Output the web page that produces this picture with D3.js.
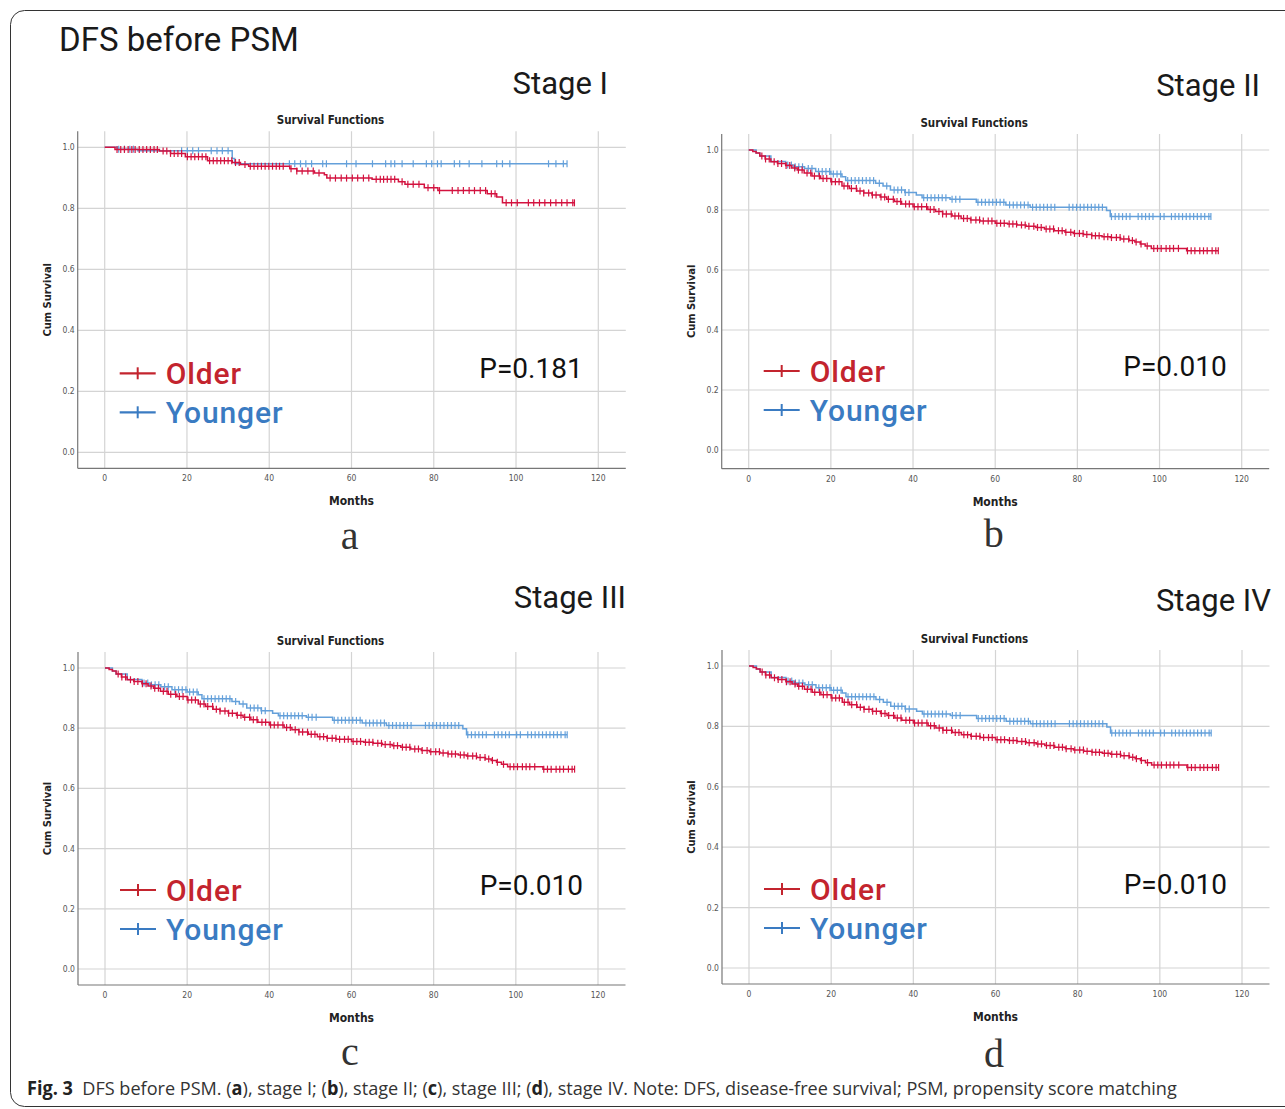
<!DOCTYPE html>
<html>
<head>
<meta charset="utf-8">
<script src="https://cdn.jsdelivr.net/npm/d3@7"></script>
<style>
  body { margin: 0; background: #fff; }
  svg { display: block; }
  .tick-label { font-family: "DejaVu Sans Condensed", "DejaVu Sans", sans-serif; font-size: 8.5px; fill: #555; }
  .bold-label { font-family: "DejaVu Sans Condensed", "DejaVu Sans", sans-serif; font-weight: bold; fill: #222; }
  .big { font-family: Roboto, "Open Sans", sans-serif; }
</style>
</head>
<body>
<svg id="fig" width="1285" height="1109"></svg>
<script>
// Kaplan-Meier steps are [month, cumulative survival]; censor lists are months.

// Stage I
const olderStageI = [[0,1],[2.5,0.993],[13.3,0.988],[16,0.98],[19.6,0.969],[25,0.956],[31,0.95],
  [33,0.944],[35,0.938],[45,0.93],[46.7,0.922],[51,0.916],[53.4,0.91],[54,0.899],[65,0.895],
  [71.4,0.887],[73,0.879],[77.7,0.867],[81,0.858],[93,0.848],[95.3,0.837],[96.7,0.818]];
const olderStageICensor = [3.0,3.9,4.8,5.7,6.6,7.4,8.4,9.3,10.2,11.1,12.0,12.8,14.2,15.1,16.0,16.9,
  17.8,18.7,20.1,21.0,21.9,22.8,23.7,24.6,25.5,26.4,27.3,28.2,29.1,30.0,30.9,31.8,32.7,34.1,35.4,
  36.3,37.2,38.1,39.0,39.9,40.8,41.7,42.5,43.4,45.3,46.7,48.0,49.4,50.7,52.1,54.8,56.1,57.5,58.8,
  60.2,61.5,62.9,64.2,66.0,67.0,67.8,68.7,69.6,70.5,72.3,73.7,75.0,76.4,78.6,80.0,81.4,84.5,85.9,
  87.2,88.6,89.9,91.3,92.6,94.0,94.9,97.6,98.9,100.3,103.0,104.3,105.7,107.0,108.4,109.7,111.1,
  112.4,113.8,114.2];
const youngerStageI = [[0,1],[3,0.994],[8,0.989],[31,0.963],[31.6,0.946]];
const youngerStageICensor = [3.4,4.8,6.1,7.0,18.7,20.1,21.4,22.8,25.9,27.3,28.6,30.0,44.9,46.2,47.6,
  48.9,50.3,53.0,53.9,58.8,61.1,65.1,68.3,69.6,70.5,72.3,75.0,78.2,79.5,80.9,81.8,85.0,86.3,88.6,
  91.7,95.3,96.7,98.5,107.9,109.7,111.5,112.4];

// Stages II, III and IV show the same curves in the figure
const olderLate = [[0,1],[1,0.995],[1.8,0.99],[2.7,0.98],[4,0.97],[5.4,0.961],[7,0.955],[9,0.948],
  [10.5,0.94],[11.8,0.933],[13.5,0.923],[15.4,0.913],[17.5,0.905],[20,0.894],[22.7,0.88],
  [24.5,0.872],[26.3,0.863],[28,0.857],[30,0.85],[32,0.843],[33.6,0.836],[35.5,0.828],[37.2,0.82],
  [40,0.811],[43.6,0.802],[45.5,0.795],[47.2,0.787],[49.5,0.78],[51.7,0.772],[54,0.767],
  [56.3,0.763],[60,0.756],[63,0.753],[65.3,0.75],[67.5,0.746],[69.9,0.742],[72,0.737],[74.4,0.731],
  [77,0.726],[79,0.722],[81.5,0.718],[83.5,0.714],[86,0.711],[88,0.708],[90.5,0.703],[92.6,0.698],
  [94,0.693],[95.3,0.687],[96.5,0.68],[98,0.672],[106.6,0.664]];
const olderLateCensor = [3.2,4.1,5.0,6.2,7.1,8.0,9.1,10.0,11.2,12.1,13.0,14.2,15.1,16.0,17.2,18.1,
  19.0,20.2,21.1,22.0,23.2,24.1,25.0,26.2,27.1,28.0,29.2,30.1,31.0,32.2,33.1,34.0,35.2,36.1,37.0,
  38.2,39.1,40.3,41.2,42.1,43.3,44.2,45.1,46.3,47.2,48.1,49.3,50.2,51.1,52.3,53.2,54.1,55.3,56.2,
  57.1,58.3,59.2,60.4,61.3,62.2,63.4,64.3,65.2,66.4,67.3,68.2,69.4,70.3,71.2,72.4,73.3,74.2,75.4,
  76.3,77.2,78.4,79.3,80.5,81.4,82.3,83.5,84.4,85.3,86.5,87.4,88.3,89.5,90.4,91.3,92.5,93.4,94.3,
  95.5,97.0,98.6,99.5,100.4,101.6,102.5,103.4,104.6,106.8,107.7,108.6,109.8,110.7,111.6,112.8,
  113.7,114.3];
const youngerLate = [[0,1],[1.8,0.99],[2.7,0.98],[5.4,0.962],[9,0.95],[10.9,0.944],[13.6,0.938],
  [16.3,0.928],[20,0.92],[22.7,0.911],[23.6,0.898],[30.9,0.889],[32.7,0.88],[34.5,0.867],
  [38,0.858],[40.8,0.85],[42.2,0.841],[49,0.836],[55.4,0.826],[62.6,0.817],[68.5,0.809],
  [87.1,0.798],[88,0.778]];
const youngerLateCensor = [9.5,10.4,11.3,12.2,13.1,14.5,15.4,17.0,17.9,18.8,19.7,20.6,21.5,22.4,
  24.1,25.0,25.9,26.8,27.7,28.6,29.5,30.4,31.8,33.6,35.4,36.3,37.2,38.1,39.0,42.6,43.5,44.4,45.3,
  46.2,47.1,48.0,49.5,50.4,51.4,55.8,56.7,57.6,58.5,59.4,60.3,61.2,62.1,63.5,64.4,65.3,66.2,67.1,
  68.0,69.1,70.0,70.9,71.8,72.7,73.6,74.5,78.0,78.9,79.8,80.7,81.6,82.5,83.4,84.3,85.2,86.1,88.3,
  89.2,90.1,91.0,91.9,92.8,94.8,95.7,96.6,97.5,98.4,100.2,101.1,102.9,103.8,104.7,105.6,106.5,
  107.4,108.3,109.2,110.1,111.0,112.0,112.5];

const stageNames = ['Stage I', 'Stage II', 'Stage III', 'Stage IV'];
const pValues = ['P=0.181', 'P=0.010', 'P=0.010', 'P=0.010'];
const panelLetters = ['a', 'b', 'c', 'd'];
const xTicks = [0, 20, 40, 60, 80, 100, 120];
const yTicks = [0, 0.2, 0.4, 0.6, 0.8, 1.0];
const groupNames = ['Older', 'Younger'];

const OLDER_LINE = '#d3123f';
const YOUNGER_LINE = '#64a0da';
const OLDER_TEXT = '#c3242e';
const YOUNGER_TEXT = '#3a7bc2';

// placement of each panel on the page (pixel layout, not data)
const layout = [
  { x0: 104.7, x120: 598.3, y1: 147.3, y0: 452.3, bottom: 468.3, stageX: 608, stageY: 83, letterY: 549 },
  { x0: 748.7, x120: 1241.7, y1: 150, y0: 450, bottom: 468.7, stageX: 1260, stageY: 85, letterY: 547 },
  { x0: 105, x120: 598, y1: 668, y0: 969, bottom: 985, stageX: 626, stageY: 597, letterY: 1065 },
  { x0: 749, x120: 1242, y1: 666, y0: 968, bottom: 984, stageX: 1271, stageY: 600, letterY: 1067 },
];

const panelData = [
  [olderStageI, olderStageICensor, youngerStageI, youngerStageICensor],
  [olderLate, olderLateCensor, youngerLate, youngerLateCensor],
  [olderLate, olderLateCensor, youngerLate, youngerLateCensor],
  [olderLate, olderLateCensor, youngerLate, youngerLateCensor],
];

const svg = d3.select('#fig');

// frame round the whole figure, its right edge runs off the page
svg.append('rect')
  .attr('x', 10.5).attr('y', 10.5)
  .attr('width', 1300).attr('height', 1096)
  .attr('rx', 14)
  .attr('fill', 'none')
  .attr('stroke', '#333')
  .attr('stroke-width', 1);

svg.append('text')
  .classed('big', true)
  .attr('x', 59).attr('y', 51)
  .attr('font-size', 33)
  .attr('fill', '#1a1a1a')
  .text('DFS before PSM');

// survival value of a step function at time t
function survAt(steps, t) {
  let s = steps[0][1];
  steps.forEach(p => { if (p[0] <= t) s = p[1]; });
  return s;
}

function drawPanel(i) {
  let L = layout[i];
  let [older, olderCens, younger, youngerCens] = panelData[i];
  let x = d3.scaleLinear().domain([0, 120]).range([L.x0, L.x120]);
  let y = d3.scaleLinear().domain([0, 1]).range([L.y0, L.y1]);
  let left = L.x0 - 27, right = L.x120 + 27.5;
  let top = L.y1 - 16, bottom = L.bottom;
  let g = svg.append('g');

  // grid
  g.selectAll('.vgrid').data(xTicks).enter().append('line')
    .attr('x1', d => x(d)).attr('x2', d => x(d))
    .attr('y1', top).attr('y2', bottom)
    .attr('stroke', '#d4d4d4').attr('stroke-width', 1.2);
  g.selectAll('.hgrid').data(yTicks).enter().append('line')
    .attr('x1', left).attr('x2', right)
    .attr('y1', d => y(d)).attr('y2', d => y(d))
    .attr('stroke', '#d4d4d4').attr('stroke-width', 1.2);

  // axes lines
  g.append('line').attr('x1', left).attr('x2', left).attr('y1', top).attr('y2', bottom)
    .attr('stroke', '#777').attr('stroke-width', 1.2);
  g.append('line').attr('x1', left).attr('x2', right).attr('y1', bottom).attr('y2', bottom)
    .attr('stroke', '#777').attr('stroke-width', 1.2);

  g.selectAll('.xt').data(xTicks).enter().append('text')
    .classed('tick-label', true)
    .attr('x', d => x(d)).attr('y', bottom + 13)
    .attr('text-anchor', 'middle')
    .text(d => d);
  g.selectAll('.yt').data(yTicks).enter().append('text')
    .classed('tick-label', true)
    .attr('x', left - 3).attr('y', d => y(d) + 3)
    .attr('text-anchor', 'end')
    .text(d => d3.format('.1f')(d));

  g.append('text').classed('bold-label', true)
    .attr('x', (L.x0 + L.x120) / 2 - 21).attr('y', top - 7)
    .attr('text-anchor', 'middle').attr('font-size', 11.5)
    .text('Survival Functions');
  g.append('text').classed('bold-label', true)
    .attr('x', (L.x0 + L.x120) / 2).attr('y', bottom + 37)
    .attr('text-anchor', 'middle').attr('font-size', 12)
    .text('Months');
  g.append('text').classed('bold-label', true)
    .attr('transform', `translate(${left - 27},${(top + bottom) / 2}) rotate(-90)`)
    .attr('text-anchor', 'middle').attr('font-size', 11)
    .text('Cum Survival');

  // curves, younger beneath older
  let line = d3.line().x(d => x(d[0])).y(d => y(d[1])).curve(d3.curveStepAfter);
  let curves = [[younger, youngerCens, YOUNGER_LINE], [older, olderCens, OLDER_LINE]];
  curves.forEach(([steps, cens, col]) => {
    let end = d3.max(cens);
    let pts = steps.concat([[end, steps[steps.length - 1][1]]]);
    g.append('path')
      .attr('d', line(pts))
      .attr('fill', 'none')
      .attr('stroke', col)
      .attr('stroke-width', 1.5);
    g.selectAll(null).data(cens).enter().append('line')
      .attr('x1', d => x(d)).attr('x2', d => x(d))
      .attr('y1', d => y(survAt(steps, d)) - 3.5)
      .attr('y2', d => y(survAt(steps, d)) + 3.5)
      .attr('stroke', col)
      .attr('stroke-width', 1.2);
  });

  // legend
  let legendRows = [[groupNames[0], OLDER_TEXT, L.y0 - 79], [groupNames[1], YOUNGER_TEXT, L.y0 - 40]];
  legendRows.forEach(([name, col, ly]) => {
    g.append('line').attr('x1', L.x0 + 15).attr('x2', L.x0 + 51)
      .attr('y1', ly).attr('y2', ly).attr('stroke', col).attr('stroke-width', 2.2);
    g.append('line').attr('x1', L.x0 + 33).attr('x2', L.x0 + 33)
      .attr('y1', ly - 6).attr('y2', ly + 6).attr('stroke', col).attr('stroke-width', 2);
    g.append('text').classed('big', true)
      .attr('x', L.x0 + 61).attr('y', ly + 11)
      .attr('font-size', 30).attr('font-weight', 500)
      .attr('letter-spacing', 0.9)
      .attr('fill', col)
      .text(name);
  });

  g.append('text').classed('big', true)
    .attr('x', L.x0 + 478).attr('y', L.y0 - 74)
    .attr('text-anchor', 'end')
    .attr('font-size', 28).attr('fill', '#111')
    .text(pValues[i]);

  svg.append('text').classed('big', true)
    .attr('x', L.stageX).attr('y', L.stageY + 11)
    .attr('text-anchor', 'end')
    .attr('font-size', 31).attr('fill', '#1a1a1a')
    .text(stageNames[i]);

  svg.append('text')
    .attr('x', L.x0 + 245).attr('y', L.letterY)
    .attr('text-anchor', 'middle')
    .attr('font-family', '"Liberation Serif", "DejaVu Serif", serif')
    .attr('font-size', 40).attr('fill', '#333')
    .text(panelLetters[i]);
}

d3.range(4).forEach(drawPanel);

// caption, squeezed to the width of the original condensed face
let cap = svg.append('text')
  .attr('font-family', '"Open Sans", sans-serif')
  .attr('font-size', 19)
  .attr('fill', '#333')
  .attr('xml:space', 'preserve');
let parts = [
  ['Fig. 3', true], ['  DFS before PSM. (', false], ['a', true], ['), stage I; (', false], ['b', true],
  ['), stage II; (', false], ['c', true], ['), stage III; (', false], ['d', true],
  ['), stage IV. Note: DFS, disease-free survival; PSM, propensity score matching', false],
];
parts.forEach(([t, b]) => {
  cap.append('tspan')
    .attr('font-weight', b ? 'bold' : null)
    .attr('fill', b ? '#222' : null)
    .text(t);
});
let capW = cap.node().getComputedTextLength();
cap.attr('transform', `translate(27,1095) scale(${1150 / capW},1)`);
</script>
</body>
</html>
